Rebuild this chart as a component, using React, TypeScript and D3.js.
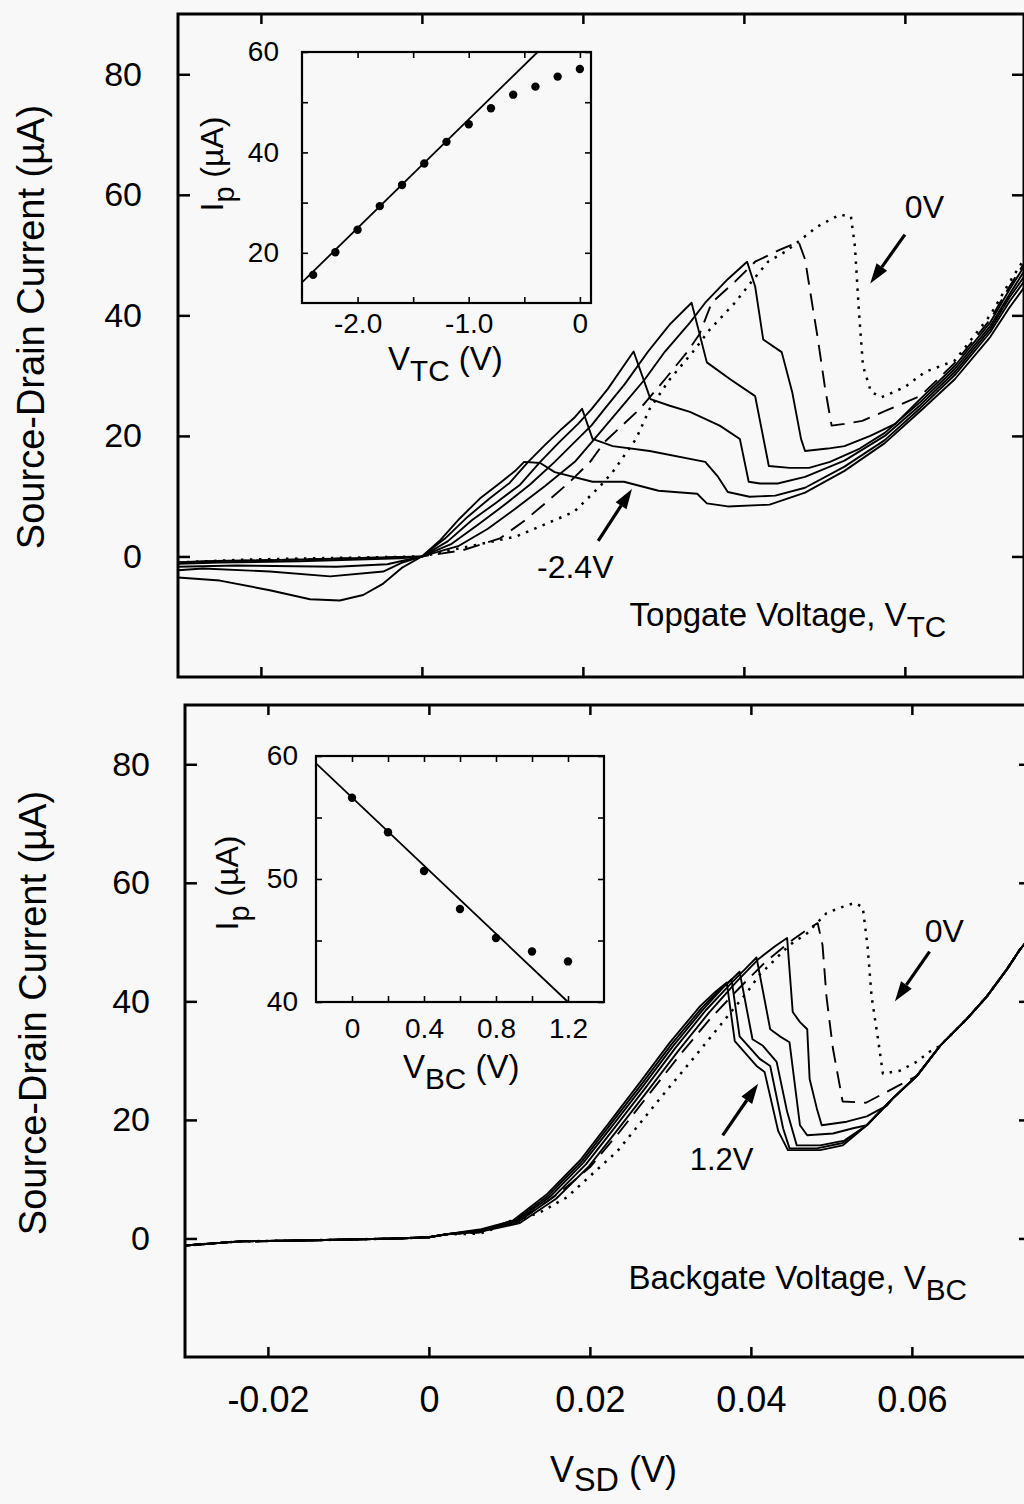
import React, { useRef, useEffect } from 'react';
import * as d3 from 'd3';

const width = 1024;
const height = 1504;
const font = '"Liberation Sans", Arial, Helvetica, sans-serif';

// main panels: source-drain bias in mV, current in uA
const SD_DOMAIN = [-30.3, 74.8];
const I_DOMAIN = [-20, 90];
const SD_TICKS = [-20, 0, 20, 40, 60];
const SD_TICK_LABELS = ['-0.02', '0', '0.02', '0.04', '0.06'];
const I_TICKS = [0, 20, 40, 60, 80];

// topgate sweep (every other trace of the inset series)
const TC_DASH = ['solid', 'solid', 'solid', 'solid', 'solid', 'dash', 'dot'];
const TC_M24 = [[-30.3,-3.5],[-25.1,-4.0],[-18.9,-5.6],[-13.9,-7.1],[-10.2,-7.3],[-7.3,-6.4],[-4.8,-4.5],[-2.4,-1.8],[0,0],[2.2,2.6],[4.7,6.3],[7.2,9.6],[9.7,12.2],[11.6,14.2],[12.7,15.7],[14.7,15.5],[16.5,14.0],[21.2,12.4],[25.1,12.4],[29.4,10.9],[34.2,10.4],[35.4,8.8],[38.0,8.3],[43.2,8.6],[47.6,10.6],[52.5,14.2],[57.5,18.8],[61.9,24.1],[66.2,29.4],[70.6,36.4],[73.0,41.3],[74.8,44.6]];
const TC_M20 = [[-30.3,-2.3],[-27.2,-2.0],[-18.9,-2.5],[-11.4,-3.3],[-4.8,-2.5],[-2.4,-1.0],[0,0],[2.9,3.0],[5.7,6.6],[8.4,9.6],[10.9,12.2],[13.2,15.7],[15.3,18.5],[17.4,21.2],[19.0,23.1],[19.9,24.5],[21.2,19.5],[23.7,18.3],[28.3,17.5],[35.2,15.7],[36.8,13.2],[38.0,10.7],[40.7,9.9],[43.9,10.1],[47.6,11.4],[52.5,14.9],[57.5,19.3],[61.9,24.6],[66.2,30.1],[70.6,37.2],[73.0,42.3],[74.8,45.6]];
const TC_M16 = [[-30.3,-1.7],[-23.0,-1.5],[-10.6,-1.7],[-4.3,-1.3],[0,0],[3.2,2.5],[6.2,6.0],[9.1,8.8],[12.2,11.9],[14.7,15.7],[17.1,19.0],[19.4,22.0],[21.1,24.5],[23.1,27.8],[24.8,31.1],[26.3,34.0],[28.4,26.1],[30.8,25.0],[33.3,24.0],[37.0,21.7],[39.5,19.5],[40.6,12.4],[42.0,12.1],[44.2,12.1],[47.6,13.2],[52.5,15.9],[57.5,20.0],[61.9,25.1],[66.2,30.6],[70.6,37.7],[73.0,43.0],[74.8,46.4]];
const TC_M12 = [[-30.3,-1.2],[-25.1,-1.0],[-15.2,-0.8],[-2.7,-0.3],[0,0],[3.7,2.1],[7.0,5.3],[10.1,8.4],[13.4,11.9],[16.5,15.7],[19.0,19.0],[21.1,21.8],[22.7,24.5],[25.2,28.6],[28.1,34.0],[30.8,38.5],[33.5,42.1],[35.4,32.2],[38.3,29.4],[41.4,26.6],[43.1,15.0],[45.7,14.7],[48.1,14.7],[50.7,15.7],[54.4,17.9],[57.5,20.5],[61.9,25.6],[66.2,31.1],[70.6,38.2],[73.0,43.5],[74.8,47.3]];
const TC_M08 = [[-30.3,-1.0],[-27.2,-0.8],[-14.8,-0.5],[-2.4,-0.1],[0,0],[4.5,1.7],[8.2,4.6],[11.6,7.9],[15.3,11.7],[19.0,15.7],[21.9,20.2],[24.6,24.5],[27.7,29.4],[30.2,34.0],[33.3,38.8],[35.2,42.1],[38.0,46.0],[40.4,48.9],[41.4,44.8],[42.4,36.0],[44.7,33.9],[46.0,27.3],[47.1,19.5],[47.6,17.5],[50.4,17.9],[52.5,18.3],[55.7,20.0],[58.8,22.0],[61.9,26.1],[66.2,31.6],[70.6,38.8],[73.0,44.3],[74.8,48.1]];
const TC_M04 = [[-30.3,-1.0],[-21.4,-0.7],[-8.9,-0.3],[0,0],[5.0,1.0],[9.7,3.0],[12.8,6.0],[15.3,8.8],[18.4,12.4],[20.9,15.7],[22.7,19.0],[27.1,24.5],[30.2,29.4],[33.0,34.0],[34.5,36.9],[36.0,42.1],[38.9,45.6],[41.4,48.9],[44.5,50.9],[46.8,52.2],[47.6,49.3],[48.4,42.6],[49.2,36.0],[50.1,27.8],[50.9,21.7],[52.5,22.0],[54.7,22.5],[57.5,24.1],[61.9,26.6],[66.2,32.1],[70.6,39.3],[73.0,44.8],[74.8,48.6]];
const TC_0 = [[-30.3,-1.0],[-21.4,-0.5],[-8.9,-0.2],[0,0],[4.5,1.3],[11.7,3.3],[18.9,7.4],[22.1,11.6],[23.7,14.0],[26.6,19.5],[28.3,24.5],[30.8,29.4],[33.7,34.0],[35.8,37.7],[38.9,42.1],[40.9,45.5],[43.0,48.9],[45.2,50.6],[49.1,54.7],[51.9,56.7],[53.3,56.4],[53.8,51.4],[54.3,40.5],[54.8,31.6],[55.8,27.3],[57.1,26.4],[60.0,28.1],[62.5,30.6],[66.2,32.5],[70.6,40.0],[73.0,45.5],[74.8,49.3]];
const TC_CURVES = [TC_M24, TC_M20, TC_M16, TC_M12, TC_M08, TC_M04, TC_0];

// backgate sweep: shared leakage at negative bias and shared valley envelope
const BC_DASH = ['solid', 'solid', 'solid', 'solid', 'solid', 'dash', 'dot'];
const BC_LEAK = [[-30.3,-1.2],[-23.5,-0.5],[-14.4,-0.3],[-4.0,0],[0,0.2],[2.2,0.7]];
const BC_ENVELOPE = [[54.4,19.1],[57.6,23.6],[60.6,27.4],[63.5,32.5],[66.8,37.0],[69.3,40.8],[71.8,45.4],[73.4,48.7],[74.8,51.0]];
const BC_12 = [[6.3,1.5],[10.4,3.0],[14.7,7.5],[18.8,13.2],[22.5,19.7],[26.2,26.3],[29.9,33.0],[33.7,39.2],[35.5,41.5],[37.0,43.2],[38.0,33.3],[40.7,29.1],[41.7,28.1],[43.4,18.1],[44.6,14.9],[48.6,14.9],[51.4,15.7]];
const BC_10 = [[6.3,1.4],[10.6,2.9],[14.9,7.3],[19.0,13.0],[22.7,19.5],[26.4,26.0],[30.1,32.7],[33.9,38.9],[36.0,41.8],[37.6,43.7],[38.6,34.1],[41.1,30.3],[42.4,29.1],[44.0,18.6],[44.8,15.2],[48.2,15.2],[51.4,16.1]];
const BC_08 = [[6.3,1.3],[10.8,2.8],[15.1,7.1],[19.2,12.8],[22.9,19.2],[26.6,25.7],[30.3,32.4],[34.1,38.7],[36.6,42.4],[38.6,45.0],[40.2,33.6],[41.5,32.5],[43.2,29.8],[44.5,21.4],[45.7,15.7],[48.6,15.7],[51.6,16.5]];
const BC_06 = [[6.3,1.2],[11.0,2.7],[15.4,6.9],[19.5,12.5],[23.2,18.9],[26.9,25.4],[30.6,32.1],[34.4,38.5],[37.5,43.0],[39.4,45.6],[40.7,47.4],[42.4,35.3],[43.6,34.1],[44.8,33.1],[46.1,19.1],[47.0,17.4],[50.2,17.7],[52.7,18.6]];
const BC_04 = [[6.3,1.1],[11.3,2.6],[15.8,6.7],[19.9,12.2],[23.6,18.6],[27.3,25.1],[31.0,31.7],[34.8,38.1],[38.2,43.3],[41.0,47.2],[43.0,49.3],[44.5,50.7],[45.2,38.2],[46.1,36.5],[47.0,35.3],[47.3,26.9],[48.2,21.9],[48.8,19.1],[51.9,19.7],[54.4,20.6],[56.9,22.4]];
const BC_02 = [[6.3,1.0],[12.5,4.2],[16.3,7.8],[20.0,12.0],[23.7,18.0],[27.5,24.6],[31.2,31.0],[34.9,37.0],[38.6,42.3],[41.7,46.5],[44.8,50.0],[47.3,52.4],[48.3,53.2],[48.9,49.5],[49.4,40.7],[50.2,32.0],[51.4,23.1],[54.3,22.9],[58.1,25.6]];
const BC_0 = [[6.3,0.8],[13.8,4.4],[17.1,6.9],[20.4,11.0],[23.4,14.7],[26.2,19.4],[28.7,23.6],[32.8,30.3],[36.1,35.8],[39.5,41.5],[41.1,44.5],[44.8,49.5],[47.0,51.5],[49.4,54.9],[51.9,56.2],[52.9,56.6],[53.9,55.9],[54.5,49.2],[55.0,40.8],[55.8,33.6],[56.4,27.8],[58.5,28.3],[60.6,29.8],[62.2,31.5]];
const BC_CURVES = [BC_12, BC_10, BC_08, BC_06, BC_04, BC_02, BC_0].map(c => {
  const last = c[c.length - 1][0];
  return BC_LEAK.concat(c, BC_ENVELOPE.filter(p => p[0] > last));
});

// inset data: peak current vs gate voltage
const TC_GATE = [-2.4, -2.2, -2.0, -1.8, -1.6, -1.4, -1.2, -1.0, -0.8, -0.6, -0.4, -0.2, 0];
const TC_PEAK = [15.6, 20.1, 24.6, 29.3, 33.5, 37.8, 42.1, 45.6, 48.8, 51.5, 53.1, 55.1, 56.6];
const TC_FIT = [[-2.5, 14.1], [-0.38, 60]];
const BC_GATE = [0, 0.2, 0.4, 0.6, 0.8, 1.0, 1.2];
const BC_PEAK = [56.6, 53.8, 50.65, 47.56, 45.2, 44.1, 43.3];
const BC_FIT = [[-0.2, 59.4], [1.2, 40.0]];

const TC_X_TICKS = [-2.0, -1.5, -1.0, -0.5, 0];
const TC_X_LABELS = ['-2.0', '', '-1.0', '', '0'];
const TC_Y_TICKS = [20, 30, 40, 50, 60];
const TC_Y_LABELS = ['20', '', '40', '', '60'];
const BC_X_TICKS = [0, 0.2, 0.4, 0.6, 0.8, 1.0, 1.2];
const BC_X_LABELS = ['0', '', '0.4', '', '0.8', '', '1.2'];
const BC_Y_TICKS = [40, 45, 50, 55, 60];
const BC_Y_LABELS = ['40', '', '50', '', '60'];

const topPanel = { id: 'top', left: 178, right: 1024, top: 14, bottom: 677, labelPad: 36 };
const botPanel = { id: 'bot', left: 185, right: 1031, top: 705, bottom: 1357, labelPad: 35 };
const topInset = { left: 302, right: 591, top: 52, bottom: 303, xPad: 10, yPad: 23 };
const botInset = { left: 316, right: 604, top: 756, bottom: 1002, xPad: 16, yPad: 18 };

function rich(sel, parts, size, shift = 0.33) {
  parts.forEach(([s, sub], i) => {
    const t = sel.append('tspan').text(s);
    if (sub) t.attr('font-size', size * 0.9).attr('dy', size * shift);
    else if (i > 0 && parts[i - 1][1]) t.attr('dy', -size * shift);
  });
}

function arrow(g, x1, y1, x2, y2) {
  const a = Math.atan2(y2 - y1, x2 - x1);
  const hl = 20, hw = 6.5;
  const bx = x2 - hl * Math.cos(a), by = y2 - hl * Math.sin(a);
  g.append('line').attr('x1', x1).attr('y1', y1).attr('x2', bx).attr('y2', by)
    .attr('stroke', '#000').attr('stroke-width', 3.2);
  g.append('path')
    .attr('d', `M${x2},${y2}L${bx + hw * Math.sin(a)},${by - hw * Math.cos(a)}L${bx - hw * Math.sin(a)},${by + hw * Math.cos(a)}Z`)
    .attr('fill', '#000');
}

function styleAxis(a, size, sw) {
  a.select('.domain').remove();
  a.selectAll('line').attr('stroke-width', sw);
  a.attr('font-size', size).attr('font-family', font);
  a.selectAll('text').attr('fill', '#000');
}

function drawPanel(g, p, curves, dashes, showX) {
  const x = d3.scaleLinear().domain(SD_DOMAIN).range([p.left, p.right]);
  const y = d3.scaleLinear().domain(I_DOMAIN).range([p.bottom, p.top]);
  const clipId = `clip-${p.id}`;
  g.append('clipPath').attr('id', clipId).append('rect')
    .attr('x', p.left).attr('y', p.top).attr('width', p.right - p.left).attr('height', p.bottom - p.top);
  const line = d3.line().x(d => x(d[0])).y(d => y(d[1]));
  g.append('g').attr('clip-path', `url(#${clipId})`)
    .selectAll('path').data(curves).join('path')
    .attr('d', line)
    .attr('fill', 'none')
    .attr('stroke', '#000')
    .attr('stroke-linejoin', 'round')
    .attr('stroke-width', (d, i) => dashes[i] === 'dot' ? 2.5 : 1.9)
    .attr('stroke-dasharray', (d, i) => dashes[i] === 'dash' ? '17 9' : dashes[i] === 'dot' ? '2.5 6.5' : null);

  g.append('g').attr('transform', `translate(${p.left},0)`)
    .call(d3.axisLeft(y).tickValues(I_TICKS).tickSize(-12).tickPadding(p.labelPad).tickFormat(d3.format('d')))
    .call(a => styleAxis(a, 34, 2.5));
  g.append('g').attr('transform', `translate(${p.right},0)`)
    .call(d3.axisRight(y).tickValues(I_TICKS).tickSize(-12).tickFormat(() => ''))
    .call(a => styleAxis(a, 34, 2.5));
  g.append('g').attr('transform', `translate(0,${p.top})`)
    .call(d3.axisTop(x).tickValues(SD_TICKS).tickSize(-10).tickFormat(() => ''))
    .call(a => styleAxis(a, 36, 2.5));
  g.append('g').attr('transform', `translate(0,${p.bottom})`)
    .call(d3.axisBottom(x).tickValues(SD_TICKS).tickSize(-10).tickPadding(29)
      .tickFormat((d, i) => showX ? SD_TICK_LABELS[i] : ''))
    .call(a => styleAxis(a, 36, 2.5));

  g.append('rect')
    .attr('x', p.left).attr('y', p.top).attr('width', p.right - p.left).attr('height', p.bottom - p.top)
    .attr('fill', 'none').attr('stroke', '#000').attr('stroke-width', 3);
  return { x, y };
}

function drawInset(g, p, xDomain, yDomain, xt, xl, yt, yl, gate, peak, fit) {
  const x = d3.scaleLinear().domain(xDomain).range([p.left, p.right]);
  const y = d3.scaleLinear().domain(yDomain).range([p.bottom, p.top]);
  g.append('g').attr('transform', `translate(${p.left},0)`)
    .call(d3.axisLeft(y).tickValues(yt).tickSize(-6).tickPadding(p.yPad).tickFormat((d, i) => yl[i]))
    .call(a => styleAxis(a, 28, 1.6));
  g.append('g').attr('transform', `translate(${p.right},0)`)
    .call(d3.axisRight(y).tickValues(yt).tickSize(-6).tickFormat(() => ''))
    .call(a => styleAxis(a, 28, 1.6));
  g.append('g').attr('transform', `translate(0,${p.bottom})`)
    .call(d3.axisBottom(x).tickValues(xt).tickSize(-6).tickPadding(p.xPad).tickFormat((d, i) => xl[i]))
    .call(a => styleAxis(a, 28, 1.6));
  g.append('g').attr('transform', `translate(0,${p.top})`)
    .call(d3.axisTop(x).tickValues(xt).tickSize(-6).tickFormat(() => ''))
    .call(a => styleAxis(a, 28, 1.6));
  g.append('path').datum(fit)
    .attr('d', d3.line().x(d => x(d[0])).y(d => y(d[1])))
    .attr('fill', 'none').attr('stroke', '#000').attr('stroke-width', 1.8);
  g.append('g').selectAll('circle').data(gate).join('circle')
    .attr('cx', d => x(d)).attr('cy', (d, i) => y(peak[i])).attr('r', 4.2).attr('fill', '#000');
  g.append('rect')
    .attr('x', p.left).attr('y', p.top).attr('width', p.right - p.left).attr('height', p.bottom - p.top)
    .attr('fill', 'none').attr('stroke', '#000').attr('stroke-width', 2.2);
}

function note(g, x, y, parts, size, shift = 0.33) {
  const t = g.append('text').attr('x', x).attr('y', y)
    .attr('font-family', font).attr('font-size', size).attr('fill', '#000');
  rich(t, parts, size, shift);
  return t;
}

function drawChart(node) {
  const svg = d3.select(node);
  svg.selectAll('*').remove();
  svg.append('rect').attr('width', width).attr('height', height).attr('fill', '#f8f8f8');

  const top = drawPanel(svg.append('g'), topPanel, TC_CURVES, TC_DASH, false);
  const bot = drawPanel(svg.append('g'), botPanel, BC_CURVES, BC_DASH, true);

  drawInset(svg.append('g'), topInset, [-2.5, 0.1], [10, 60], TC_X_TICKS, TC_X_LABELS, TC_Y_TICKS, TC_Y_LABELS, TC_GATE, TC_PEAK, TC_FIT);
  drawInset(svg.append('g'), botInset, [-0.2, 1.4], [40, 60], BC_X_TICKS, BC_X_LABELS, BC_Y_TICKS, BC_Y_LABELS, BC_GATE, BC_PEAK, BC_FIT);

  // y titles
  [[44, 327], [46, 1013]].forEach(([tx, ty]) => {
    svg.append('text')
      .attr('transform', `translate(${tx},${ty}) rotate(-90)`)
      .attr('text-anchor', 'middle').attr('font-family', font).attr('font-size', 38)
      .text('Source-Drain Current (\u00b5A)');
  });
  note(svg, 550, 1482, [['V', false], ['SD', true], [' (V)', false]], 36, 0.25);

  // inset titles
  const i1 = svg.append('text').attr('transform', 'translate(223,164) rotate(-90)')
    .attr('text-anchor', 'middle').attr('font-family', font).attr('font-size', 32);
  rich(i1, [['I', false], ['p', true], [' (\u00b5A)', false]], 32);
  const i2 = svg.append('text').attr('transform', 'translate(238,883) rotate(-90)')
    .attr('text-anchor', 'middle').attr('font-family', font).attr('font-size', 32);
  rich(i2, [['I', false], ['p', true], [' (\u00b5A)', false]], 32);
  note(svg, 388, 370, [['V', false], ['TC', true], [' (V)', false]], 33);
  note(svg, 403, 1078, [['V', false], ['BC', true], [' (V)', false]], 33);

  // annotations, placed in data units of each panel
  note(svg, top.x(60.0), top.y(56.2), [['0V', false]], 32);
  note(svg, top.x(14.3), top.y(-3.5), [['-2.4V', false]], 32);
  arrow(svg, top.x(60.0), top.y(53.4), top.x(55.7), top.y(45.3));
  arrow(svg, top.x(21.9), top.y(2.6), top.x(26.1), top.y(11.2));
  note(svg, top.x(25.8), top.y(-11.6), [['Topgate Voltage, V', false], ['TC', true]], 33);

  note(svg, bot.x(61.6), bot.y(50.0), [['0V', false]], 32);
  note(svg, bot.x(32.4), bot.y(11.5), [['1.2V', false]], 31);
  arrow(svg, bot.x(62.2), bot.y(48.4), bot.x(57.9), bot.y(40.0));
  arrow(svg, bot.x(36.5), bot.y(17.4), bot.x(40.9), bot.y(26.1));
  note(svg, bot.x(24.8), bot.y(-8.5), [['Backgate Voltage, V', false], ['BC', true]], 33);
}

export default function App() {
  const svgRef = useRef(null);
  useEffect(() => {
    if (svgRef.current) drawChart(svgRef.current);
  }, []);
  return (
    <svg ref={svgRef} width={width} height={height}
      style={{ position: 'absolute', left: 0, top: 0, display: 'block' }} />
  );
}
